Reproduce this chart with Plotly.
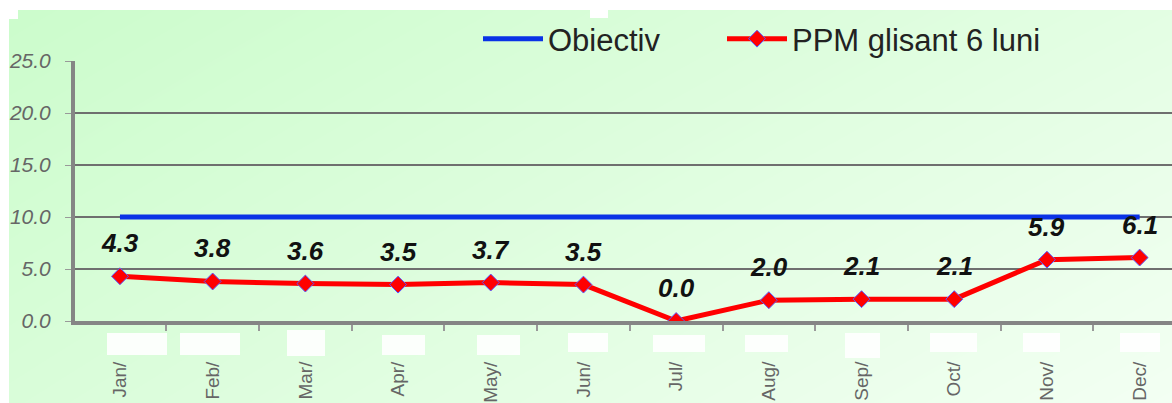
import plotly.graph_objects as go

# Monthly values: six-month rolling PPM against the target
months = ["Jan/", "Feb/", "Mar/", "Apr/", "May/", "Jun/",
          "Jul/", "Aug/", "Sep/", "Oct/", "Nov/", "Dec/"]
ppm_values = [4.3, 3.8, 3.6, 3.5, 3.7, 3.5, 0.0, 2.0, 2.1, 2.1, 5.9, 6.1]
target_values = [10.0] * 12
y_ticks = [0, 5, 10, 15, 20, 25]

W, H = 1172, 403


def px_x(p):
    return p / W


def px_y(p):
    return 1 - p / H


fig = go.Figure()

# Soft green backdrop drawn as a smooth heatmap on a hidden full-page subplot
fig.add_trace(go.Heatmap(
    z=[[0.35, 1.0], [0.0, 0.6]],
    x=[0, 1], y=[0, 1],
    zsmooth="best", showscale=False, hoverinfo="skip",
    colorscale=[[0, "#cbfccb"], [1, "#f3fff3"]],
    xaxis="x", yaxis="y", showlegend=False,
))

fig.add_trace(go.Scatter(
    x=months, y=target_values, name="Obiectiv",
    mode="lines", line=dict(color="#0a32e6", width=5),
    xaxis="x2", yaxis="y2", legend="legend",
))
fig.add_trace(go.Scatter(
    x=months, y=ppm_values, name="PPM glisant 6 luni",
    mode="lines+markers", line=dict(color="#ff0000", width=5),
    marker=dict(symbol="diamond", size=13, color="#ff0000",
                line=dict(color="#5a5aff", width=1)),
    xaxis="x2", yaxis="y2", legend="legend2",
))

# Value labels above each point
annotations = [
    dict(x=m, y=v, xref="x2", yref="y2", text=f"{v:.1f}", showarrow=False,
         yshift=33,
         font=dict(family="Liberation Sans", size=26, color="#111111",
                   weight="bold", style="italic"))
    for m, v in zip(months, ppm_values)
]

# White page border and blanked areas under the month labels
shapes = []
border_boxes = [(0, 0, W, 10), (0, 0, 9, H), (9, 10, 18, 19), (590, 10, 608, 18)]
blank_boxes = [(107, 333, 167, 355), (180, 333, 240, 355), (287, 330, 325, 356),
               (382, 335, 425, 355), (477, 335, 520, 355), (568, 333, 608, 352),
               (653, 335, 705, 352), (745, 335, 788, 352), (845, 333, 880, 358),
               (930, 333, 977, 352), (1023, 333, 1060, 352), (1120, 333, 1160, 352)]
for (x0, y0, x1, y1) in border_boxes:
    shapes.append(dict(type="rect", xref="paper", yref="paper",
                       x0=px_x(x0), x1=px_x(x1), y0=px_y(y1), y1=px_y(y0),
                       fillcolor="white", line=dict(width=0), layer="above"))
for (x0, y0, x1, y1) in blank_boxes:
    shapes.append(dict(type="rect", xref="paper", yref="paper",
                       x0=px_x(x0), x1=px_x(x1), y0=px_y(y1), y1=px_y(y0),
                       fillcolor="rgba(255,255,255,0.9)", line=dict(width=0),
                       layer="above"))

legend_style = dict(orientation="h", yanchor="middle", xanchor="left",
                    bgcolor="rgba(0,0,0,0)", itemwidth=60,
                    font=dict(size=31, color="#222222"))

fig.update_layout(
    width=W, height=H,
    margin=dict(l=0, r=0, t=0, b=0, autoexpand=False),
    paper_bgcolor="#def9de",
    plot_bgcolor="rgba(0,0,0,0)",
    font=dict(family="Liberation Sans", color="#222222"),
    showlegend=True,
    legend=dict(x=px_x(478), y=px_y(39), **legend_style),
    legend2=dict(x=px_x(722), y=px_y(39), **legend_style),
    xaxis=dict(domain=[0, 1], range=[0, 1], visible=False, fixedrange=True,
               automargin=False),
    yaxis=dict(domain=[0, 1], range=[0, 1], visible=False, fixedrange=True,
               automargin=False),
    xaxis2=dict(
        domain=[px_x(75), 1], anchor="y2", type="category",
        categoryorder="array", categoryarray=months,
        range=[-0.485, 11.349], tickson="boundaries", automargin=False,
        showline=True, linecolor="#858585", linewidth=4,
        ticks="outside", ticklen=6, tickcolor="#999999", tickwidth=1.5,
        tickangle=-90, ticklabelstandoff=29,
        tickfont=dict(size=19, color="#666666"),
        showgrid=False,
    ),
    yaxis2=dict(
        domain=[px_y(321), px_y(61)], anchor="x2", automargin=False,
        range=[0, 25], tickvals=y_ticks, ticktext=[f"{t:.1f}" for t in y_ticks],
        showline=True, linecolor="#858585", linewidth=4,
        ticks="outside", ticklen=6, tickcolor="#999999",
        ticklabelstandoff=10,
        tickfont=dict(size=21, color="#666666", style="italic"),
        showgrid=True, gridcolor="#6f6f6f", gridwidth=2,
        zeroline=False,
    ),
    annotations=annotations,
    shapes=shapes,
)

fig.write_html("out.html")
